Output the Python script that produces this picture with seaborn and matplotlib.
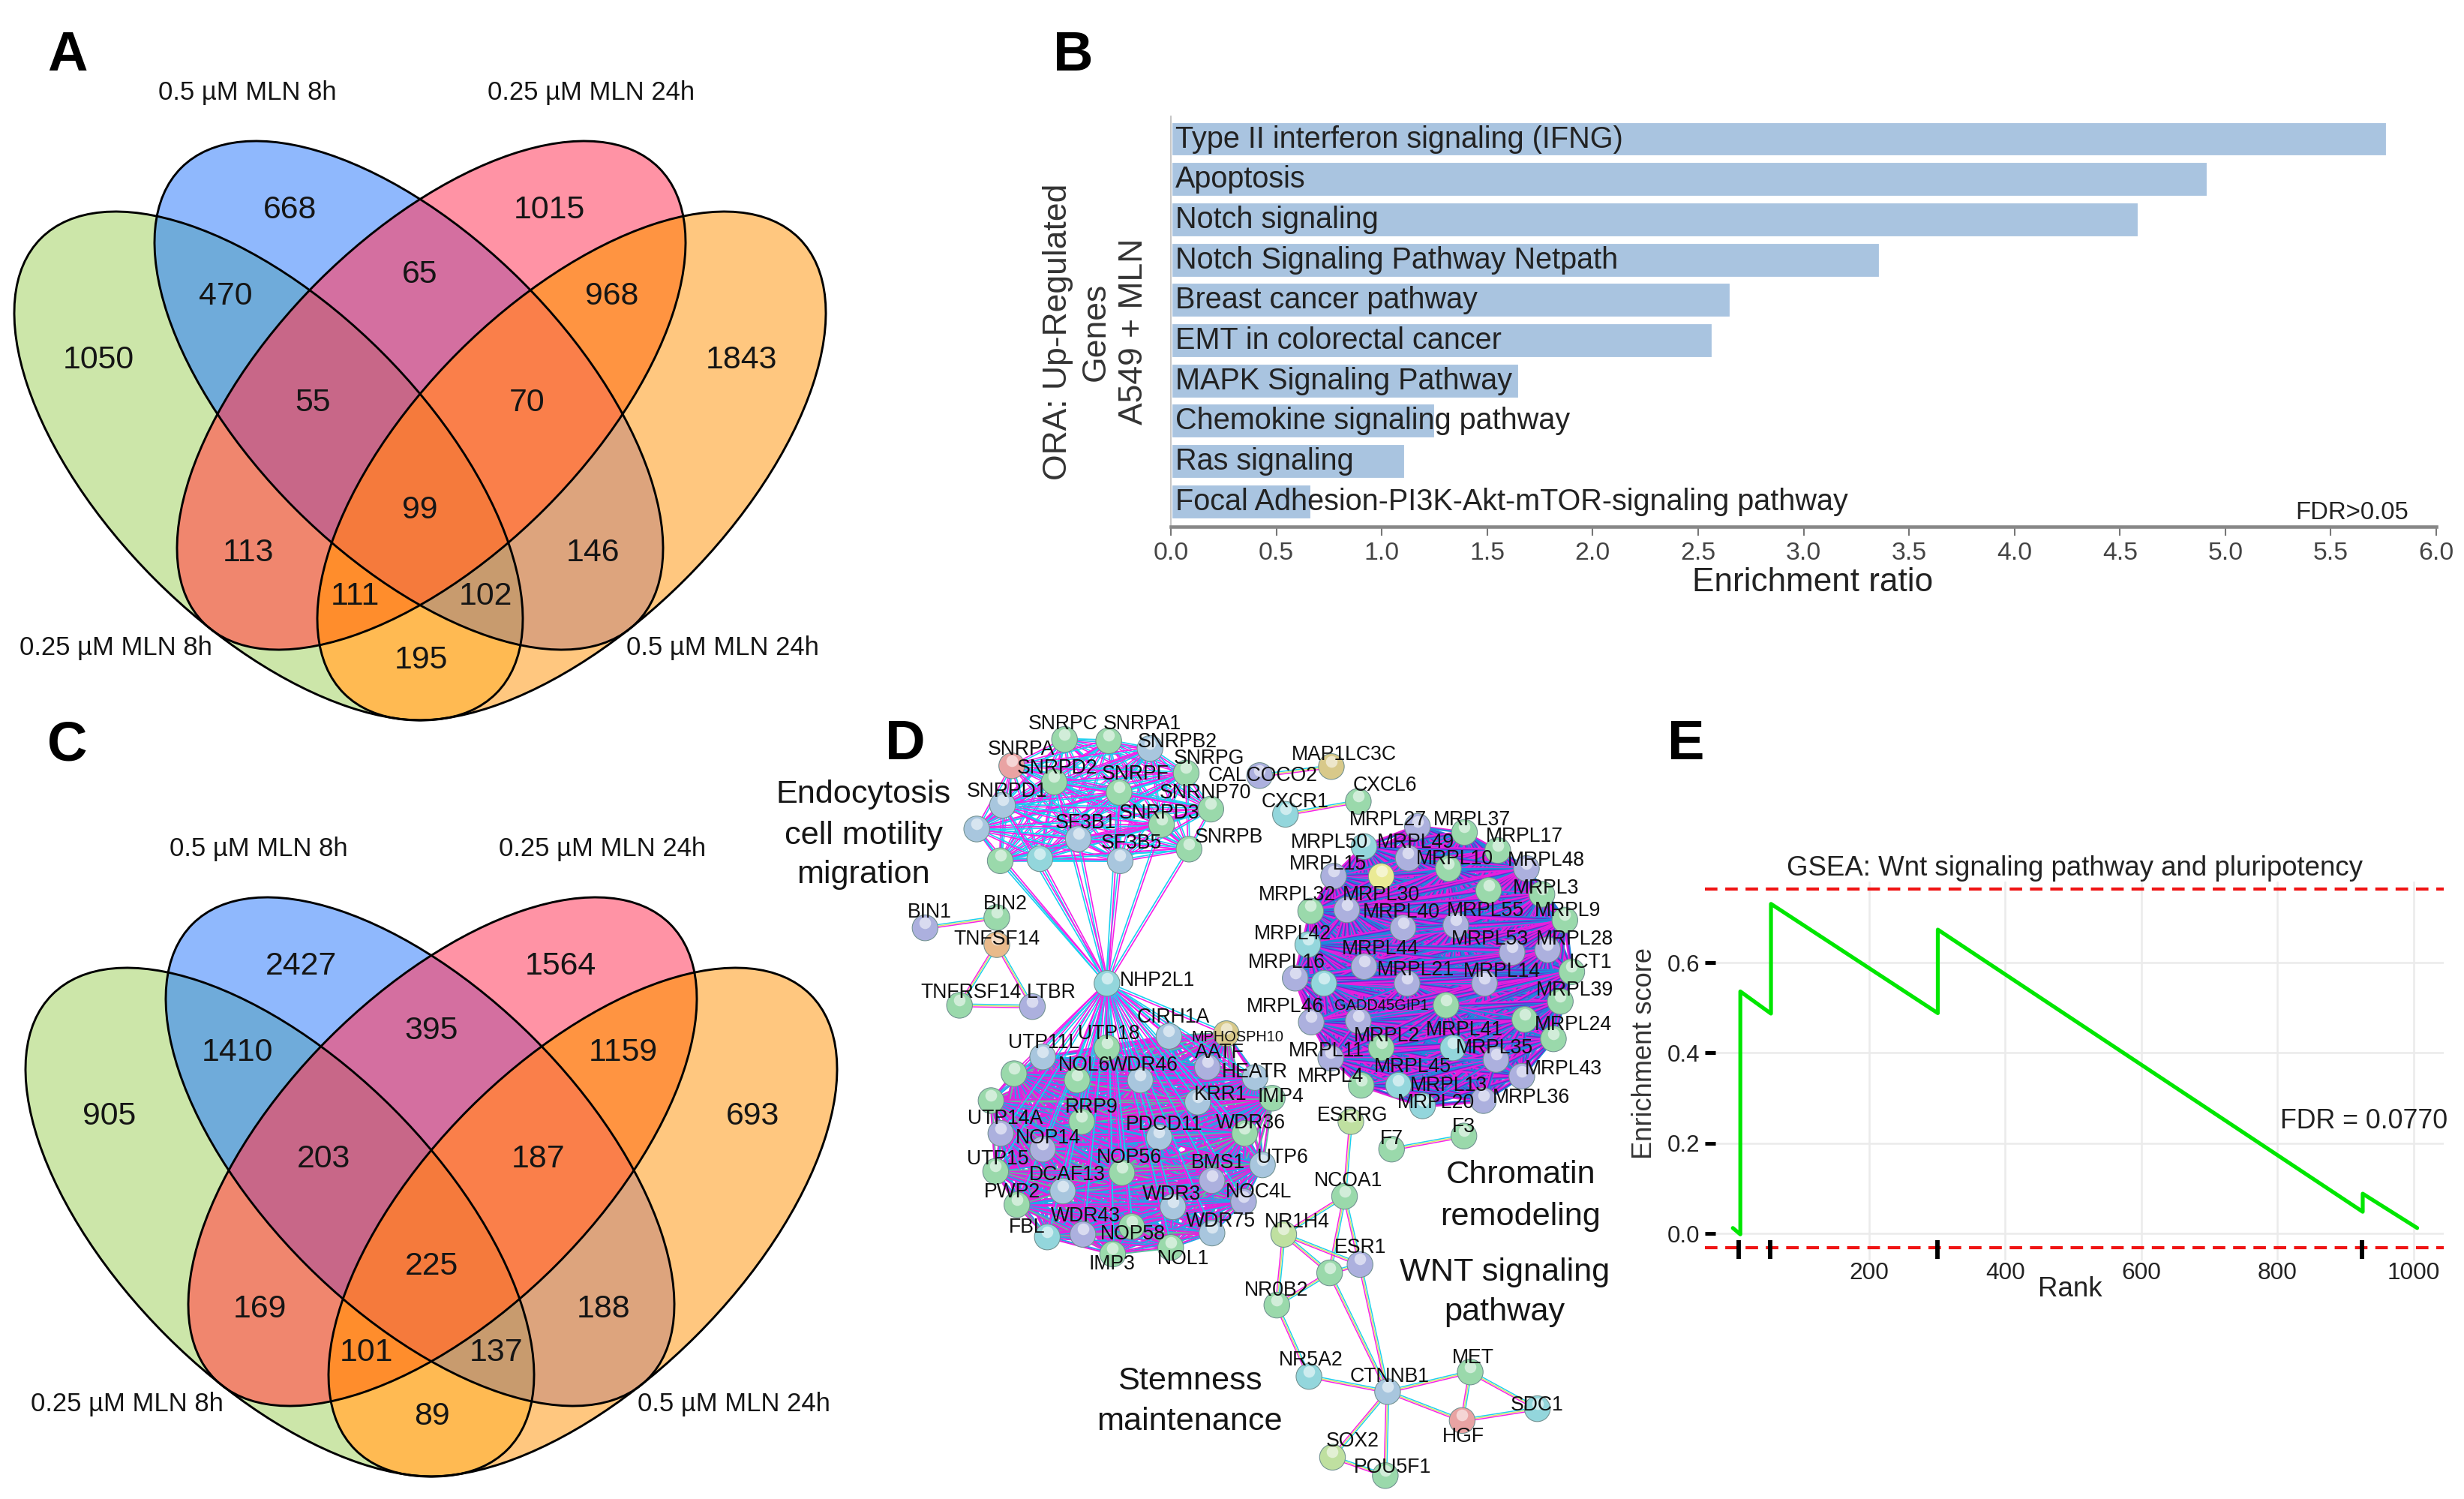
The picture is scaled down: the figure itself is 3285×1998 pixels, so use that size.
import itertools

import matplotlib.pyplot as plt
import numpy as np
import pandas as pd
import seaborn as sns
from matplotlib.collections import LineCollection
from matplotlib.colors import to_rgba
from matplotlib.patches import Ellipse

W, H = 3285, 1998

# === data ===
venn_a_counts = [668, 1015, 470, 65, 968, 1050, 1843, 55, 70, 99, 113, 146, 111, 102, 195]
venn_c_counts = [2427, 1564, 1410, 395, 1159, 905, 693, 203, 187, 225, 169, 188, 101, 137, 89]
venn_sets = ["0.5 µM MLN 8h", "0.25 µM MLN 24h", "0.25 µM MLN 8h", "0.5 µM MLN 24h"]

pathways = [
    "Type II interferon signaling (IFNG)", "Apoptosis", "Notch signaling",
    "Notch Signaling Pathway Netpath", "Breast cancer pathway", "EMT in colorectal cancer",
    "MAPK Signaling Pathway", "Chemokine signaling pathway", "Ras signaling",
    "Focal Adhesion-PI3K-Akt-mTOR-signaling pathway",
]
enrichment_ratio = [5.77, 4.92, 4.59, 3.365, 2.657, 2.57, 1.654, 1.254, 1.113, 0.669]

gsea_rank = [0, 11, 11, 56, 56, 301, 301, 925, 925, 1005]
gsea_score = [0.012, -0.002, 0.536, 0.487, 0.73, 0.488, 0.673, 0.048, 0.088, 0.012]
gsea_hits = [9, 55, 300, 924]

splice_genes = ["SNRPC", "SNRPA1", "SNRPB2", "SNRPA", "SNRPG", "SNRPD2", "SNRPF", "SNRPD1",
                "SNRNP70", "SNRPD3", "s1", "SF3B1", "SF3B5", "SNRPB", "s2", "s3"]
mito_genes = ["MRPL27", "MRPL37", "MRPL17", "MRPL50", "MRPL49", "MRPL15", "m1", "MRPL10", "MRPL48",
              "m2", "MRPL3", "MRPL32", "MRPL30", "MRPL40", "MRPL55", "MRPL9", "MRPL42", "MRPL53",
              "MRPL28", "MRPL44", "MRPL16", "m3", "MRPL21", "MRPL14", "ICT1", "MRPL39", "MRPL46",
              "GADD45GIP1", "m4", "MRPL24", "MRPL2", "MRPL41", "MRPL35", "MRPL11", "MRPL45",
              "MRPL43", "MRPL4", "MRPL13", "MRPL20", "MRPL36"]
ribo_genes = ["CIRH1A", "MPHOSPH10", "UTP18", "UTP11L", "AATF", "NOL6", "WDR46", "HEATR", "r1",
              "KRR1", "IMP4", "RRP9", "UTP14A", "PDCD11", "WDR36", "NOP14", "r2", "UTP15", "NOP56",
              "BMS1", "UTP6", "DCAF13", "PWP2", "WDR3", "NOC4L", "WDR43", "FBL", "NOP58", "WDR75",
              "NOL1", "IMP3"]
hub_up = ["s2", "s3", "SF3B1", "SF3B5", "SNRPB", "SNRPD3", "s1", "SNRPD1", "SNRPF", "SNRPD2"]
small_edges = [("BIN1", "BIN2"), ("TNFSF14", "TNFRSF14"), ("TNFSF14", "LTBR"), ("TNFRSF14", "LTBR"),
               ("CALCOCO2", "MAP1LC3C"), ("CXCR1", "CXCL6"), ("F7", "F3"), ("ESRRG", "NCOA1"),
               ("NCOA1", "NR1H4"), ("NCOA1", "w1"), ("NCOA1", "ESR1"), ("NR1H4", "w1"),
               ("NR1H4", "ESR1"), ("NR1H4", "NR0B2"), ("w1", "NR0B2"), ("w1", "ESR1"),
               ("NR0B2", "NR5A2"), ("w1", "CTNNB1"), ("ESR1", "CTNNB1"), ("NR5A2", "CTNNB1"),
               ("CTNNB1", "MET"), ("CTNNB1", "HGF"), ("CTNNB1", "SOX2"), ("CTNNB1", "POU5F1"),
               ("SOX2", "POU5F1"), ("MET", "HGF"), ("MET", "SDC1"), ("HGF", "SDC1")]
other_genes = ["CALCOCO2", "MAP1LC3C", "CXCL6", "CXCR1", "BIN1", "BIN2", "TNFSF14", "TNFRSF14",
               "LTBR", "NHP2L1", "ESRRG", "F7", "F3", "NCOA1", "NR1H4", "ESR1", "w1", "NR0B2",
               "NR5A2", "CTNNB1", "MET", "SDC1", "HGF", "SOX2", "POU5F1"]

# === layout ===
# network layout: node x, node y, label x, label y, read off two crops of the figure
layout_upper = {
    "SNRPC": (548, 150, 545, 90), "SNRPA1": (625, 155, 683, 90), "SNRPB2": (697, 185, 745, 160),
    "SNRPA": (456, 252, 472, 188), "SNRPG": (760, 280, 800, 225), "SNRPD2": (530, 315, 535, 262),
    "SNRPF": (643, 355, 672, 285), "SNRPD1": (440, 405, 448, 352), "SNRNP70": (803, 420, 793, 357),
    "SNRPD3": (717, 480, 713, 435), "s1": (395, 497, 0, 0), "SF3B1": (572, 535, 585, 475),
    "SF3B5": (645, 620, 664, 553), "SNRPB": (765, 575, 835, 530), "s2": (436, 620, 0, 0),
    "s3": (505, 612, 0, 0), "CALCOCO2": (888, 290, 893, 290), "MAP1LC3C": (1013, 255, 1035, 210),
    "CXCL6": (1060, 390, 1107, 328), "CXCR1": (933, 440, 950, 392), "BIN1": (305, 880, 313, 820),
    "BIN2": (430, 840, 445, 787), "TNFSF14": (430, 945, 430, 925),
    "TNFRSF14": (365, 1180, 385, 1130), "LTBR": (492, 1185, 525, 1130),
    "NHP2L1": (622, 1095, 710, 1085), "MRPL27": (1163, 487, 1112, 462),
    "MRPL37": (1245, 510, 1258, 462), "MRPL17": (1303, 580, 1350, 527),
    "MRPL50": (1070, 565, 1010, 550), "MRPL49": (1147, 610, 1160, 550),
    "MRPL15": (1017, 680, 1007, 633), "m1": (1100, 680, 0, 0), "MRPL10": (1217, 650, 1228, 612),
    "MRPL48": (1353, 650, 1388, 618), "m2": (1287, 735, 0, 0), "MRPL3": (1380, 750, 1387, 727),
    "MRPL32": (977, 815, 953, 752), "MRPL30": (1040, 810, 1100, 752),
    "MRPL40": (1138, 880, 1135, 820), "MRPL55": (1230, 870, 1282, 815),
    "MRPL9": (1420, 850, 1425, 815), "MRPL42": (972, 945, 946, 903),
    "MRPL53": (1328, 975, 1290, 925), "MRPL28": (1390, 965, 1437, 925),
    "MRPL44": (1070, 1030, 1098, 963), "MRPL16": (950, 1075, 935, 1015), "m3": (1000, 1095, 0, 0),
    "MRPL21": (1145, 1095, 1160, 1045), "MRPL14": (1280, 1095, 1310, 1048),
    "ICT1": (1432, 1050, 1465, 1015), "MRPL39": (1412, 1165, 1437, 1122),
    "MRPL46": (978, 1245, 933, 1185), "GADD45GIP1": (1060, 1240, 1100, 1182),
    "m4": (1213, 1180, 0, 0), "MRPL24": (1350, 1235, 1435, 1257), "MRPL2": (1100, 1345, 1110, 1300),
    "MRPL41": (1225, 1345, 1245, 1275), "MRPL35": (1400, 1310, 1298, 1345),
    "MRPL11": (1012, 1385, 1005, 1358), "MRPL45": (1130, 1490, 1155, 1420),
    "MRPL43": (1345, 1455, 1418, 1428), "MRPL4": (1065, 1490, 1012, 1455),
    "MRPL13": (1300, 1390, 1217, 1490), "CIRH1A": (730, 1300, 737, 1228),
    "MPHOSPH10": (830, 1290, 850, 1305), "UTP18": (622, 1345, 625, 1290),
    "UTP11L": (510, 1380, 512, 1325), "AATF": (797, 1420, 818, 1362),
    "NOL6": (570, 1470, 582, 1412), "WDR46": (680, 1470, 685, 1412), "HEATR": (880, 1460, 880, 1440),
    "r1": (460, 1445, 0, 0), "IMP4": (910, 1540, 925, 1535), "KRR1": (780, 1555, 820, 1525),
}
layout_lower = {
    "MRPL20": (1172, 60, 1195, 50), "MRPL36": (1278, 40, 1362, 28), "RRP9": (578, 120, 595, 65),
    "UTP14A": (437, 165, 445, 108), "PDCD11": (713, 180, 722, 133), "WDR36": (862, 165, 872, 125),
    "NOP14": (510, 225, 520, 183), "r2": (420, 40, 0, 0), "UTP15": (428, 310, 432, 262),
    "NOP56": (648, 315, 660, 257), "BMS1": (805, 345, 815, 277), "UTP6": (893, 285, 928, 258),
    "DCAF13": (545, 385, 553, 322), "PWP2": (465, 437, 457, 388), "WDR3": (737, 445, 735, 397),
    "NOC4L": (860, 425, 887, 390), "WDR43": (580, 550, 585, 480), "FBL": (518, 560, 482, 525),
    "NOP58": (665, 520, 667, 550), "WDR75": (805, 545, 820, 502), "NOL1": (733, 600, 755, 645),
    "IMP3": (632, 625, 630, 665), "ESRRG": (1047, 120, 1050, 98), "F7": (1118, 225, 1118, 185),
    "F3": (1244, 175, 1244, 140), "NCOA1": (1036, 405, 1043, 345), "NR1H4": (930, 550, 953, 503),
    "ESR1": (1063, 665, 1063, 600), "w1": (1010, 697, 0, 0), "NR0B2": (918, 820, 917, 765),
    "NR5A2": (974, 1092, 978, 1030), "CTNNB1": (1111, 1150, 1115, 1092),
    "MET": (1255, 1075, 1260, 1022), "SDC1": (1372, 1215, 1372, 1203),
    "HGF": (1241, 1260, 1243, 1322), "SOX2": (1015, 1400, 1050, 1338),
    "POU5F1": (1107, 1470, 1120, 1438),
}
node_tint = {
    "SNRPA": "pink", "HGF": "pink", "SNRPB2": "blue", "SNRPD1": "blue", "s1": "blue", "SF3B1": "blue",
    "SF3B5": "blue", "s3": "teal", "CALCOCO2": "purple", "MAP1LC3C": "tan", "CXCR1": "teal",
    "BIN1": "purple", "TNFSF14": "orange", "LTBR": "purple", "NHP2L1": "teal", "m1": "yellow",
    "MRPL27": "purple", "MRPL49": "purple", "MRPL15": "purple", "MRPL48": "purple", "MRPL30": "purple",
    "MRPL40": "purple", "MRPL55": "purple", "MRPL53": "purple", "MRPL28": "purple", "MRPL44": "purple",
    "MRPL16": "purple", "MRPL21": "purple", "MRPL14": "purple", "MRPL46": "purple", "GADD45GIP1": "purple",
    "MRPL11": "purple", "MRPL43": "purple", "MRPL13": "purple", "MRPL36": "purple", "m3": "teal",
    "MRPL50": "teal", "MRPL42": "teal", "MRPL41": "teal", "MRPL20": "teal", "MRPL45": "teal",
    "CIRH1A": "blue", "MPHOSPH10": "tan", "UTP11L": "blue", "AATF": "purple", "WDR46": "blue",
    "HEATR": "blue", "KRR1": "blue", "UTP14A": "purple", "PDCD11": "blue", "NOP14": "purple",
    "BMS1": "purple", "UTP6": "blue", "DCAF13": "blue", "WDR3": "blue", "NOC4L": "purple",
    "WDR43": "purple", "FBL": "teal", "WDR75": "blue", "ESR1": "purple", "NR5A2": "teal",
    "CTNNB1": "blue", "SDC1": "teal", "ESRRG": "lime", "NR1H4": "lime", "SOX2": "lime",
}
tints = {"green": "#9AD9AB", "teal": "#93D6DC", "blue": "#A8C6DE", "purple": "#ACB0DE", "pink": "#E9A3A3",
         "tan": "#D8C98A", "yellow": "#EAEA95", "orange": "#E9BA8B", "lime": "#BFE0A0"}


def node_pos(name):
    if name in layout_upper:
        nx, ny, lx, ly = layout_upper[name]
        return 1000 + 0.765 * nx, 934 + 0.344 * ny, 1000 + 0.765 * lx, 934 + 0.344 * ly
    nx, ny, lx, ly = layout_lower[name]
    return 1000 + 0.765 * nx, 1453 + 0.3495 * ny, 1000 + 0.765 * lx, 1453 + 0.3495 * ly


venn_text_xy = [(387, 276), (732, 276), (301, 391), (560, 362), (816, 391), (131, 476), (989, 476),
                (417, 533), (703, 533), (560, 676), (331, 733), (790, 733), (473, 791), (647, 791),
                (561, 876)]
venn_label_xy = [(330, 120), (788, 120), (154, 859), (963, 859)]
# green, blue, pink, orange: centre x, centre y, tilt
venn_ellipses = [(358, 617, 45), (545, 523, 45), (575, 523, -45), (762, 617, -45)]
region_colors = {
    (1, 0, 0, 0): "#CCE6A9", (0, 1, 0, 0): "#8FB8FD", (0, 0, 1, 0): "#FF93A5", (0, 0, 0, 1): "#FFC77F",
    (1, 1, 0, 0): "#6FABDA", (0, 1, 1, 0): "#D46FA0", (0, 0, 1, 1): "#FF9441", (1, 0, 0, 1): "#FFBA52",
    (1, 0, 1, 0): "#F0866E", (0, 1, 0, 1): "#DDA47D", (1, 1, 1, 0): "#C86788", (0, 1, 1, 1): "#FA7F4A",
    (1, 1, 0, 1): "#C89B6E", (1, 0, 1, 1): "#FF8D2C", (1, 1, 1, 1): "#F57A3C",
}

sns.set_theme(style="white")
plt.rcParams["font.family"] = ["Liberation Sans", "DejaVu Sans"]
plt.rcParams["text.color"] = "#151515"

fig = plt.figure(figsize=(W / 300, H / 300), dpi=300, facecolor="white")


def px_axes(left, top, right, bottom):
    a = fig.add_axes([left / W, 1 - bottom / H, (right - left) / W, (bottom - top) / H])
    a.patch.set_alpha(0)
    return a


canvas = fig.add_axes([0, 0, 1, 1])
canvas.patch.set_alpha(0)


# === Venn panels ===
def draw_venn(ax, dx, dy, counts):
    a, b = 429, 214
    gw, gh = 1150, 1000
    xs, ys = np.meshgrid(np.arange(gw) + dx + 0.5, np.arange(gh) + dy + 0.5)
    masks = []
    for cx, cy, tilt in venn_ellipses:
        t = np.deg2rad(tilt)
        u = (xs - cx - dx) * np.cos(t) + (ys - cy - dy) * np.sin(t)
        v = -(xs - cx - dx) * np.sin(t) + (ys - cy - dy) * np.cos(t)
        masks.append((u / a) ** 2 + (v / b) ** 2 <= 1)
    img = np.zeros((gh, gw, 4))
    for key, col in region_colors.items():
        hit = np.ones_like(masks[0])
        for m, k in zip(masks, key):
            hit &= m if k else ~m
        img[hit] = to_rgba(col)
    ax.imshow(img, extent=(dx, dx + gw, dy + gh, dy), interpolation="nearest", zorder=1, aspect="auto")
    for cx, cy, tilt in venn_ellipses:
        ax.add_patch(Ellipse((cx + dx, cy + dy), 2 * a, 2 * b, angle=tilt, fill=False,
                             edgecolor="black", lw=0.7, zorder=2))
    for (x, y), n in zip(venn_text_xy, counts):
        ax.text(x + dx, y + dy, str(n), ha="center", va="center", fontsize=10.3, zorder=5)
    for (x, y), s in zip(venn_label_xy, venn_sets):
        ax.text(x + dx, y + dy, s, ha="center", va="center", fontsize=8.3, zorder=5)


draw_venn(canvas, 0, 4, venn_a_counts)
draw_venn(canvas, 15, 1012, venn_c_counts)

# === Bar panel ===
ax_b = px_axes(1561, 155, 3248, 702)
sns.barplot(x=enrichment_ratio, y=pathways, orient="h", color="#A9C4E0", saturation=1, width=0.89, ax=ax_b)
ax_b.set_xlim(0, 6)
ax_b.set_ylim(9.62, -0.57)
ax_b.set_yticks([])
ax_b.set_xticks(np.arange(0, 6.5, 0.5))
ax_b.set_xticklabels([f"{t:.1f}" for t in np.arange(0, 6.5, 0.5)], color="#444444")
ax_b.tick_params(axis="x", labelsize=8.1, length=2.9, width=0.5, color="#777777", pad=1.8, bottom=True)
for name in ["top", "right"]:
    ax_b.spines[name].set_visible(False)
ax_b.spines["left"].set_color("#BBBBBB")
ax_b.spines["left"].set_linewidth(0.4)
ax_b.spines["bottom"].set_color("#888888")
ax_b.spines["bottom"].set_linewidth(1.1)
for i, name in enumerate(pathways):
    ax_b.text(0.02, i, name, va="center", ha="left", fontsize=9.5, color="#222222")
ax_b.text(5.6, 9.27, "FDR>0.05", ha="center", va="center", fontsize=7.9, color="#222222")
ax_b.set_xlabel("Enrichment ratio", fontsize=10.6, color="#222222", va="center")
ax_b.xaxis.set_label_coords((2417 - 1561) / 1687, -74 / 547)
ax_b.set_ylabel("ORA: Up-Regulated\nGenes\nA549 + MLN", fontsize=10.7, color="#333333", va="center",
                ha="center", linespacing=1.3)
ax_b.yaxis.set_label_coords((1461 - 1561) / 1687, (702 - 442) / 547)

# === Network panel ===
segs, seg_colors, seg_widths = [], [], []


def add_edge(p, q, cols, lw, gap):
    p, q = np.array(p), np.array(q)
    d = q - p
    n = np.array([-d[1], d[0]]) / (np.hypot(*d) + 1e-9)
    for k, col in enumerate(cols):
        off = (k - (len(cols) - 1) / 2) * gap * n
        segs.append([p + off, q + off])
        seg_colors.append(col)
        seg_widths.append(lw)


def xy(name):
    return node_pos(name)[:2]


for pair in itertools.combinations(splice_genes, 2):
    add_edge(xy(pair[0]), xy(pair[1]), ["#19D0F0", "#F81EE8"], 0.4, 2.4)
for k, pair in enumerate(itertools.combinations(ribo_genes, 2)):
    cols = ["#1FA8E8", "#E61FDC"] if k % 4 else ["#57C0A0", "#E61FDC"]
    add_edge(xy(pair[0]), xy(pair[1]), cols, 0.5, 1.8)
for k, pair in enumerate(itertools.combinations(mito_genes, 2)):
    cols = ["#1E88DC", "#6A28D0", "#E61FDC"] if k % 3 else ["#E61FDC", "#1E88DC"]
    add_edge(xy(pair[0]), xy(pair[1]), cols, 0.55, 1.5)
for g in hub_up + ribo_genes:
    add_edge(xy("NHP2L1"), xy(g), ["#19D0F0", "#F81EE8"], 0.4, 3)
for p, q in small_edges:
    add_edge(xy(p), xy(q), ["#19D0F0", "#D9E56A", "#F81EE8"], 0.35, 1.8)
canvas.add_collection(LineCollection(segs, colors=seg_colors, linewidths=seg_widths, zorder=2))

all_genes = splice_genes + mito_genes + ribo_genes + other_genes
nodes = pd.DataFrame({
    "x": [xy(g)[0] for g in all_genes],
    "y": [xy(g)[1] for g in all_genes],
    "tint": [node_tint.get(g, "green") for g in all_genes],
})
sns.scatterplot(data=nodes, x="x", y="y", hue="tint", palette=tints, s=68, edgecolor="#6F8F8F",
                linewidth=0.25, legend=False, zorder=3, ax=canvas)
canvas.scatter(nodes["x"], nodes["y"] - 7, s=14, color="white", alpha=0.55, linewidths=0, zorder=3.1)

for g in all_genes:
    _, _, lx, ly = node_pos(g)
    if g[0] in "smrw" and g[1:].isdigit():
        continue
    size = 4.8 if g in ("MPHOSPH10", "GADD45GIP1") else 6.4
    canvas.text(lx, ly, g, ha="center", va="center", fontsize=size, color="#101010", zorder=4)

network_notes = ["Endocytosis", "cell motility", "migration", "Chromatin", "remodeling",
                 "WNT signaling", "pathway", "Stemness", "maintenance"]
note_xy = [(1151, 1059), (1151, 1114), (1151, 1166), (2027, 1566), (2027, 1622),
           (2006, 1696), (2006, 1749), (1586, 1841), (1586, 1895)]
for (x, y), s in zip(note_xy, network_notes):
    canvas.text(x, y, s, ha="center", va="center", fontsize=10.4, zorder=5)

# === GSEA panel ===
ax_e = px_axes(2273, 1175, 3258, 1680)
sns.lineplot(x=gsea_rank, y=gsea_score, estimator=None, sort=False, color="#00E600", lw=1.25, ax=ax_e,
             zorder=4)
ax_e.set_xlim(-41, 1044)
ax_e.set_ylim(-0.0598, 0.7795)
ax_e.set_xticks([200, 400, 600, 800, 1000])
ax_e.set_yticks([0, 0.2, 0.4, 0.6])
ax_e.set_yticklabels(["0.0", "0.2", "0.4", "0.6"])
ax_e.grid(color="#EBEBEB", lw=0.6)
ax_e.tick_params(axis="x", length=0, labelsize=7.6, pad=0.5, labelcolor="#222222")
ax_e.tick_params(axis="y", direction="in", length=3.4, width=1.2, color="black", left=True, labelsize=7.5,
                 pad=1.5, labelcolor="#222222")
sns.despine(ax=ax_e, left=True, bottom=True)
for level in [0.763, -0.0316]:
    ax_e.axhline(level, color="#F01414", lw=1.0, linestyle=(0, (4, 2.5)), zorder=3)
ax_e.vlines(gsea_hits, -0.0565, -0.015, color="black", lw=1.4, zorder=5)
ax_e.text(927, 0.248, "FDR = 0.0770", ha="center", va="center", fontsize=8.6, color="#222222")
ax_e.set_title("GSEA: Wnt signaling pathway and pluripotency", fontsize=8.8, color="#222222", pad=2)
ax_e.set_xlabel("Rank", fontsize=8.8, color="#222222", va="center")
ax_e.xaxis.set_label_coords(487 / 985, -39 / 505)
ax_e.set_ylabel("Enrichment score", fontsize=8.7, color="#333333", va="center")
ax_e.yaxis.set_label_coords(-80 / 985, 276 / 505)

# === panel letters ===
for s, (x, y) in zip("ABCDE", [(90, 74), (1431, 74), (90, 994), (1207, 992), (2248, 992)]):
    canvas.text(x, y, s, ha="center", va="center", fontsize=17.8, fontweight="bold", color="black", zorder=6)

canvas.set_xlim(0, W)
canvas.set_ylim(H, 0)
canvas.axis("off")

fig.savefig("out.png", dpi=300, facecolor="white")
